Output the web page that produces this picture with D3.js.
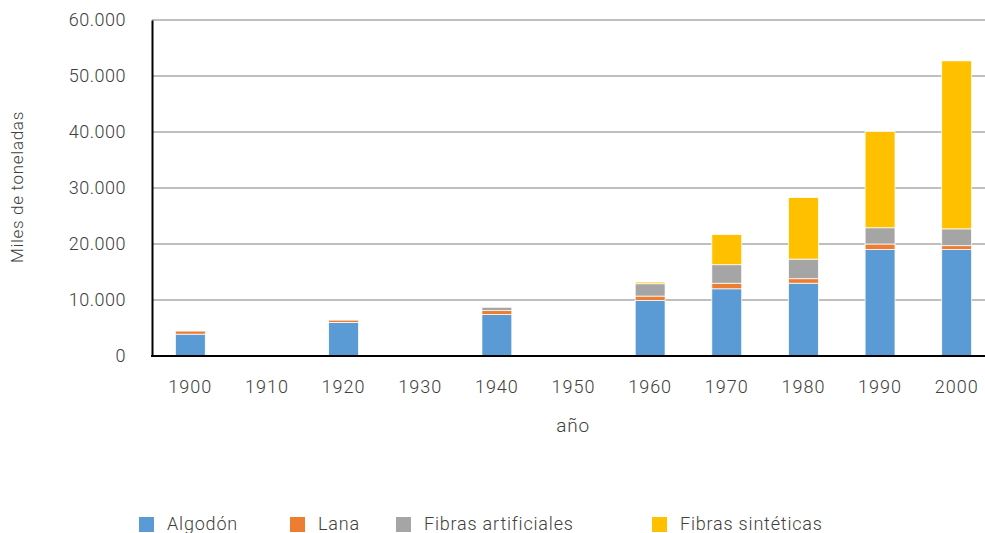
<!DOCTYPE html>
<html>
<head>
<meta charset="utf-8">
<script src="https://cdn.jsdelivr.net/npm/d3@7"></script>
<style>
  body { margin: 0; background: #fff; }
  svg text { font-family: Roboto, sans-serif; font-weight: 300; fill: #404040; }
</style>
</head>
<body>
<div id="chart"></div>
<script>

/*
 * Fibre production by decade (thousands of tonnes).
 */

var years = ['1900', '1910', '1920', '1930', '1940', '1950', '1960', '1970', '1980', '1990', '2000'];
var algodon = [3900, 0, 6000, 0, 7400, 0, 9900, 12000, 13000, 19000, 19000];
var lana = [550, 0, 400, 0, 700, 0, 800, 1000, 800, 1000, 700];
var artificiales = [0, 0, 0, 0, 600, 0, 2200, 3300, 3500, 2900, 3000];
var sinteticas = [0, 0, 0, 0, 0, 0, 300, 5400, 11000, 17200, 30000];
var yTicks = [0, 10000, 20000, 30000, 40000, 50000, 60000];
var seriesNames = ['Algodón', 'Lana', 'Fibras artificiales', 'Fibras sintéticas'];
var seriesKeys = ['algodon', 'lana', 'artificiales', 'sinteticas'];
var colors = ['#5B9BD5', '#ED7D31', '#A5A5A5', '#FFC000'];

var width = 985;
var height = 533;

// Plot area.
var plotLeft = 152, plotTop = 20, plotBottom = 356, plotRight = 995;

// Build rows for the stack.
var rows = years.map(function(yr, i) {
  return {
    year: yr,
    algodon: algodon[i],
    lana: lana[i],
    artificiales: artificiales[i],
    sinteticas: sinteticas[i]
  };
});

var stacked = d3.stack().keys(seriesKeys)(rows);

// Spanish number format.
var locale = d3.formatLocale({ decimal: ',', thousands: '.', grouping: [3], currency: ['', ''] });
var fmt = locale.format(',d');

var x = d3.scaleBand().domain(years).range([plotLeft, plotRight]).paddingInner(0.61).paddingOuter(0.305);
var y = d3.scaleLinear().domain([0, 60000]).range([plotBottom, plotTop]);

var svg = d3.select('#chart').append('svg')
  .attr('width', width)
  .attr('height', height);

// Gridlines.
svg.append('g')
  .selectAll('line')
  .data(yTicks.slice(1))
  .enter().append('line')
  .attr('x1', plotLeft)
  .attr('x2', width)
  .attr('y1', function(d) { return y(d); })
  .attr('y2', function(d) { return y(d); })
  .attr('stroke', '#bfbfbf')
  .attr('stroke-width', 2);

// Bars.
svg.append('g')
  .selectAll('g')
  .data(stacked)
  .enter().append('g')
  .attr('fill', function(d, i) { return colors[i]; })
  .selectAll('rect')
  .data(function(d) { return d.filter(function(p) { return p[1] > p[0]; }); })
  .enter().append('rect')
  .attr('x', function(d) { return x(d.data.year); })
  .attr('width', x.bandwidth())
  .attr('y', function(d) { return y(d[1]); })
  .attr('height', function(d) { return y(d[0]) - y(d[1]); })
  .attr('stroke', '#fff')
  .attr('stroke-width', 0.75);

// Y axis.
var yAxis = svg.append('g')
  .attr('transform', 'translate(' + plotLeft + ',0)')
  .call(d3.axisLeft(y).tickValues(yTicks).tickFormat(fmt).tickSize(0).tickPadding(26));
yAxis.select('.domain').attr('stroke', '#000').attr('stroke-width', 2);
yAxis.selectAll('text').attr('font-size', 18).attr('letter-spacing', 0.5).attr('fill', '#404040');

// X axis.
var xAxis = svg.append('g')
  .attr('transform', 'translate(0,' + plotBottom + ')')
  .call(d3.axisBottom(x).tickSize(0).tickPadding(24));
xAxis.select('.domain').remove();
xAxis.selectAll('text').attr('font-size', 18).attr('letter-spacing', 1).attr('fill', '#404040');
svg.append('line')
  .attr('x1', plotLeft - 1)
  .attr('x2', width)
  .attr('y1', plotBottom)
  .attr('y2', plotBottom)
  .attr('stroke', '#000')
  .attr('stroke-width', 2);

// Axis titles.
svg.append('text')
  .attr('x', 573)
  .attr('y', 432)
  .attr('text-anchor', 'middle')
  .attr('font-size', 19)
  .attr('letter-spacing', 0.8)
  .text('año');

svg.append('text')
  .attr('transform', 'translate(23,187) rotate(-90)')
  .attr('text-anchor', 'middle')
  .attr('font-size', 17)
  .attr('letter-spacing', 0.7)
  .text('Miles de toneladas');

// Legend.
var legendX = [139, 290, 396, 652];
var legend = svg.append('g')
  .selectAll('g')
  .data(seriesNames)
  .enter().append('g')
  .attr('transform', function(d, i) { return 'translate(' + legendX[i] + ',517)'; });

legend.append('rect')
  .attr('width', 15)
  .attr('height', 15)
  .attr('fill', function(d, i) { return colors[i]; });

legend.append('text')
  .attr('x', 28)
  .attr('y', 13)
  .attr('font-size', 18)
  .attr('letter-spacing', 0.8)
  .text(function(d) { return d; });

</script>
</body>
</html>
